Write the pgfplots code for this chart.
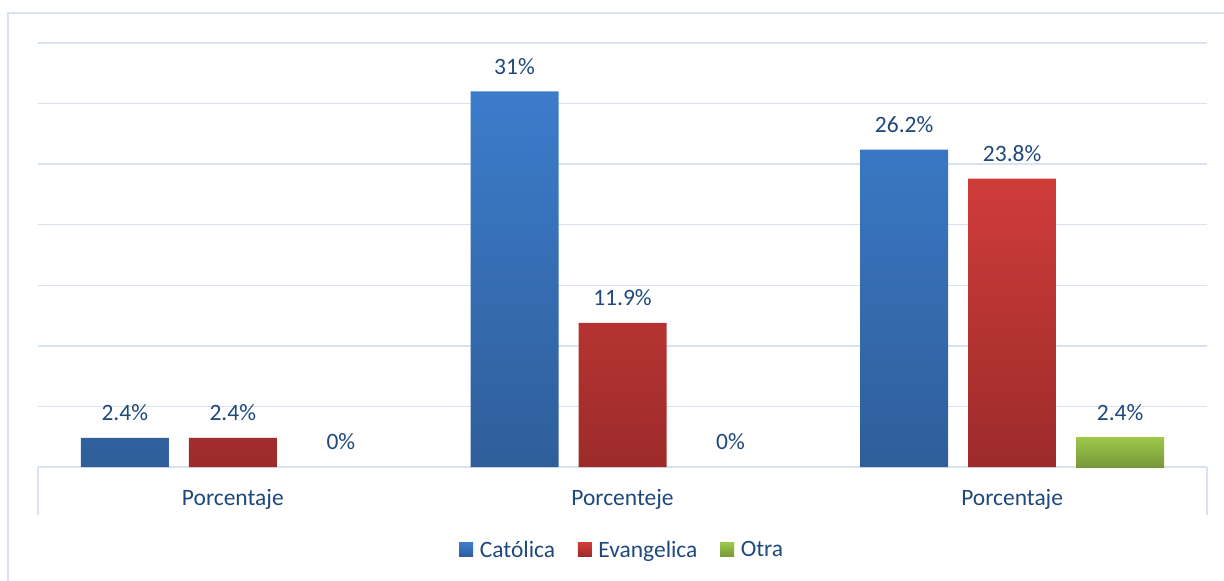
\documentclass[border=0pt]{standalone}
\usepackage{pgfplots}
\pgfplotsset{compat=1.18}
\usepackage{fontspec}
\setmainfont{Carlito}
\definecolor{gridc}{HTML}{D9E3F0}
\definecolor{lab}{HTML}{1F497D}
\definecolor{bluetop}{HTML}{3C7CCB}
\definecolor{bluebot}{HTML}{2F5E9A}
\definecolor{redtop}{HTML}{CF3C3A}
\definecolor{redbot}{HTML}{9C2B2A}
\definecolor{greentop}{HTML}{9DC74A}
\definecolor{greenbot}{HTML}{779839}
\begin{document}
\begin{tikzpicture}[font=\fontsize{17.6}{21}\selectfont]
\useasboundingbox (0,0) rectangle (918pt,-435.75pt);
\fill[white] (0,0) rectangle (918pt,-435.75pt);
\draw[gridc, line width=1.5pt] (6pt,-437pt) -- (6pt,-10.1pt) -- (919pt,-10.1pt);
\begin{axis}[
  at={(28.5pt,-350.25pt)}, anchor=south west,
  scale only axis, width=876.75pt, height=318pt,
  xmin=0, xmax=3, ymin=0, ymax=35,
  ytick={0,5,...,35}, yticklabel=\empty,
  ymajorgrids, grid style={gridc, line width=1pt},
  axis lines*=left, axis line style={-},
  y axis line style={draw=none},
  x axis line style={gridc, line width=1pt},
  xtick={0.5,1.5,2.5}, xticklabels={Porcentaje,Porcenteje,Porcentaje},
  major tick length=0pt,
  xticklabel style={lab, anchor=base, yshift=-28.5pt},
  ybar, bar width=66pt,
  /pgf/number format/assume math mode=true,
  nodes near coords={\pgfmathprintnumber{\pgfplotspointmeta}\%},
  every node near coord/.append style={lab, anchor=base, yshift=13pt},
  legend columns=3,
  legend style={draw=none, fill=none, at={(0.5,-0.196)}, anchor=center,
    text=lab,
    /tikz/every odd column/.append style={column sep=3pt},
    /tikz/every even column/.append style={column sep=15pt}},
  legend image code/.code={\path[#1] (0pt,-5pt) rectangle (10.5pt,5.5pt);},
  clip=false,
]
\addplot[bar shift=-81pt, draw=none, top color=bluetop, bottom color=bluebot]
  coordinates {(0.5,2.4) (1.5,31) (2.5,26.2)};
\addlegendentry{Católica}
\addplot[bar shift=0pt, draw=none, top color=redtop, bottom color=redbot]
  coordinates {(0.5,2.4) (1.5,11.9) (2.5,23.8)};
\addlegendentry{Evangelica}
\addplot[bar shift=81pt, draw=none, top color=greentop, bottom color=greenbot]
  coordinates {(2.5,2.4)};
\addlegendentry{Otra}
\addplot[forget plot, bar shift=81pt, draw=none, fill=none]
  coordinates {(0.5,0) (1.5,0)};
\draw[gridc, line width=1pt] (rel axis cs:0,0) -- ++(0,-36pt);
\draw[gridc, line width=1pt] (rel axis cs:1,0) -- ++(0,-36pt);
\end{axis}
\end{tikzpicture}
\end{document}
